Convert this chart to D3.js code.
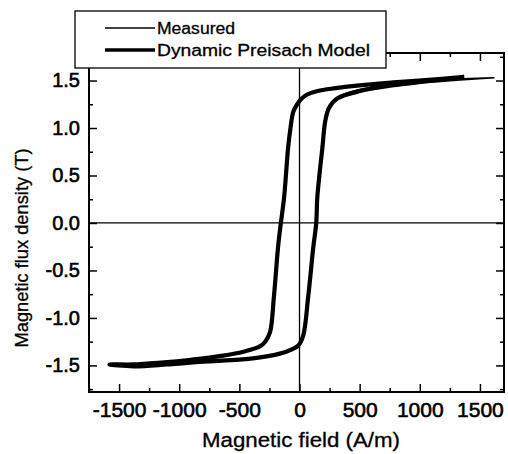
<!DOCTYPE html>
<html>
<head>
<meta charset="utf-8">
<script src="https://cdn.jsdelivr.net/npm/d3@7"></script>
<style>
  body { margin: 0; background: #fff; }
  svg text { font-family: "Liberation Sans", Arial, sans-serif; fill: #000; }
</style>
</head>
<body>
<div id="chart"></div>
<script>
// hysteresis loop (H in A/m, B in T)
var modelH = [1370, 1100, 780, 500, 300, 150, 60, 10, -20, -52, -75, -95, -128, -155, -178, -213, -245, -285, -330, -450, -650, -900, -1150, -1380, -1580,
              -1380, -1100, -800, -500, -250, -100, -10, 30, 72, 115, 139, 148, 190, 215, 245, 313, 505, 780, 1050, 1370];
var modelB = [1.54, 1.51, 1.48, 1.45, 1.42, 1.39, 1.35, 1.30, 1.25, 1.17, 1.0, 0.79, 0.27, 0, -0.25, -0.78, -1.15, -1.25, -1.30, -1.35, -1.40, -1.44, -1.47, -1.49, -1.49,
              -1.51, -1.49, -1.46, -1.44, -1.40, -1.35, -1.29, -1.19, -0.78, -0.25, 0, 0.27, 0.79, 1.08, 1.21, 1.31, 1.39, 1.45, 1.49, 1.54];

var measH = [1620, 1370, 1100, 780, 500, 300, 150, 60, 10, -20, -52, -75, -95, -128, -155, -178, -213, -245, -285, -330, -450, -650, -900, -1150, -1380, -1560,
             -1380, -1100, -800, -500, -250, -100, -10, 30, 72, 115, 139, 148, 190, 215, 245, 313, 505, 800, 1173, 1400, 1620];
var measB = [1.53, 1.52, 1.50, 1.47, 1.45, 1.42, 1.39, 1.35, 1.30, 1.25, 1.17, 1.0, 0.79, 0.27, 0, -0.25, -0.78, -1.15, -1.25, -1.30, -1.36, -1.41, -1.45, -1.47, -1.49, -1.49,
             -1.50, -1.48, -1.46, -1.44, -1.40, -1.35, -1.29, -1.19, -0.78, -0.25, 0, 0.27, 0.79, 1.08, 1.21, 1.32, 1.41, 1.46, 1.49, 1.51, 1.53];

var xTicks = [-1500, -1000, -500, 0, 500, 1000, 1500];
var xTickLabels = ["-1500", "-1000", "-500", "0", "500", "1000", "1500"];
var xMinor = [-1750, -1250, -750, -250, 250, 750, 1250];
var yTicks = [-1.5, -1.0, -0.5, 0.0, 0.5, 1.0, 1.5];
var yTickLabels = ["-1.5", "-1.0", "-0.5", "0.0", "0.5", "1.0", "1.5"];
var yMinor = [-1.75, -1.25, -0.75, -0.25, 0.25, 0.75, 1.25, 1.75];
var seriesNames = ["Measured", "Dynamic Preisach Model"];

function drawChart() {
  var width = 508, height = 454;
  var mLeft = 89, mRight = 504, mTop = 53, mBottom = 392;

  var svg = d3.select('#chart')
    .append('svg')
    .attr('width', width)
    .attr('height', height);

  var x = d3.scaleLinear().domain([-1750, 1700]).range([mLeft, mRight]);
  var y = d3.scaleLinear().domain([-1.78, 1.79]).range([mBottom, mTop]);

  // zero lines
  svg.append('line')
    .attr('x1', x(0)).attr('x2', x(0)).attr('y1', mTop).attr('y2', mBottom)
    .attr('stroke', '#000').attr('stroke-width', 1.3);
  svg.append('line')
    .attr('x1', mLeft).attr('x2', mRight).attr('y1', y(0)).attr('y2', y(0))
    .attr('stroke', '#000').attr('stroke-width', 1.3);

  // loops
  function pts(hs, bs) { return hs.map(function(h, i) { return [h, bs[i]]; }); }
  var line = d3.line()
    .x(function(d) { return x(d[0]); })
    .y(function(d) { return y(d[1]); })
    .curve(d3.curveCatmullRom);

  svg.append('path')
    .attr('d', line(pts(modelH, modelB)))
    .attr('fill', 'none').attr('stroke', '#000').attr('stroke-width', 4.2)
    .attr('stroke-linejoin', 'round');
  svg.append('path')
    .attr('d', line(pts(measH, measB)))
    .attr('fill', 'none').attr('stroke', '#000').attr('stroke-width', 1.4);

  // axes, ticks pointing inward on all four sides
  function styleAxis(g) {
    g.select('.domain').remove();
    g.selectAll('.tick line').attr('stroke', '#000').attr('stroke-width', 1.5);
  }
  svg.append('g').attr('transform', 'translate(0,' + mBottom + ')')
    .call(d3.axisBottom(x).tickValues(xTicks).tickSize(-8).tickPadding(10)
      .tickFormat(function(d, i) { return xTickLabels[i]; }))
    .call(styleAxis)
    .selectAll('text').attr('font-size', 21).attr('stroke', '#000').attr('stroke-width', 0.6);
  svg.append('g').attr('transform', 'translate(0,' + mBottom + ')')
    .call(d3.axisBottom(x).tickValues(xMinor).tickSize(-4).tickFormat(''))
    .call(styleAxis);
  svg.append('g').attr('transform', 'translate(0,' + mTop + ')')
    .call(d3.axisTop(x).tickValues(xTicks).tickSize(-8).tickFormat(''))
    .call(styleAxis);
  svg.append('g').attr('transform', 'translate(0,' + mTop + ')')
    .call(d3.axisTop(x).tickValues(xMinor).tickSize(-4).tickFormat(''))
    .call(styleAxis);

  svg.append('g').attr('transform', 'translate(' + mLeft + ',0)')
    .call(d3.axisLeft(y).tickValues(yTicks).tickSize(-8).tickPadding(9)
      .tickFormat(function(d, i) { return yTickLabels[i]; }))
    .call(styleAxis)
    .selectAll('text').attr('font-size', 20).attr('stroke', '#000').attr('stroke-width', 0.6);
  svg.append('g').attr('transform', 'translate(' + mLeft + ',0)')
    .call(d3.axisLeft(y).tickValues(yMinor).tickSize(-4).tickFormat(''))
    .call(styleAxis);
  svg.append('g').attr('transform', 'translate(' + mRight + ',0)')
    .call(d3.axisRight(y).tickValues(yTicks).tickSize(-8).tickFormat(''))
    .call(styleAxis);
  svg.append('g').attr('transform', 'translate(' + mRight + ',0)')
    .call(d3.axisRight(y).tickValues(yMinor).tickSize(-4).tickFormat(''))
    .call(styleAxis);

  // frame
  svg.append('rect')
    .attr('x', mLeft).attr('y', mTop)
    .attr('width', mRight - mLeft).attr('height', mBottom - mTop)
    .attr('fill', 'none').attr('stroke', '#000').attr('stroke-width', 2);

  // axis titles
  svg.append('text')
    .attr('x', 301).attr('y', 447)
    .attr('text-anchor', 'middle').attr('font-size', 20)
    .attr('textLength', 198).attr('lengthAdjust', 'spacingAndGlyphs')
    .attr('stroke', '#000').attr('stroke-width', 0.3)
    .text('Magnetic field (A/m)');
  svg.append('text')
    .attr('transform', 'translate(28,' + 248 + ') rotate(-90)')
    .attr('text-anchor', 'middle').attr('font-size', 19)
    .attr('textLength', 199).attr('lengthAdjust', 'spacingAndGlyphs')
    .attr('stroke', '#000').attr('stroke-width', 0.3)
    .text('Magnetic flux density (T)');

  // legend box over the top-left of the frame
  var legend = svg.append('g');
  legend.append('rect')
    .attr('x', 75).attr('y', 11).attr('width', 311).attr('height', 57)
    .attr('fill', '#fff').attr('stroke', '#000').attr('stroke-width', 1.3);
  var legendWidths = [1.4, 3.5];
  var legendTextLen = [78, 213];
  seriesNames.forEach(function(name, i) {
    var ly = 28 + i * 22;
    legend.append('line')
      .attr('x1', 105).attr('x2', 155).attr('y1', ly).attr('y2', ly)
      .attr('stroke', '#000').attr('stroke-width', legendWidths[i]);
    legend.append('text')
      .attr('x', 157).attr('y', ly).attr('dy', '.35em')
      .attr('font-size', 16)
      .attr('textLength', legendTextLen[i]).attr('lengthAdjust', 'spacingAndGlyphs')
      .attr('stroke', '#000').attr('stroke-width', 0.3)
      .text(name);
  });
}

drawChart();
</script>
</body>
</html>
